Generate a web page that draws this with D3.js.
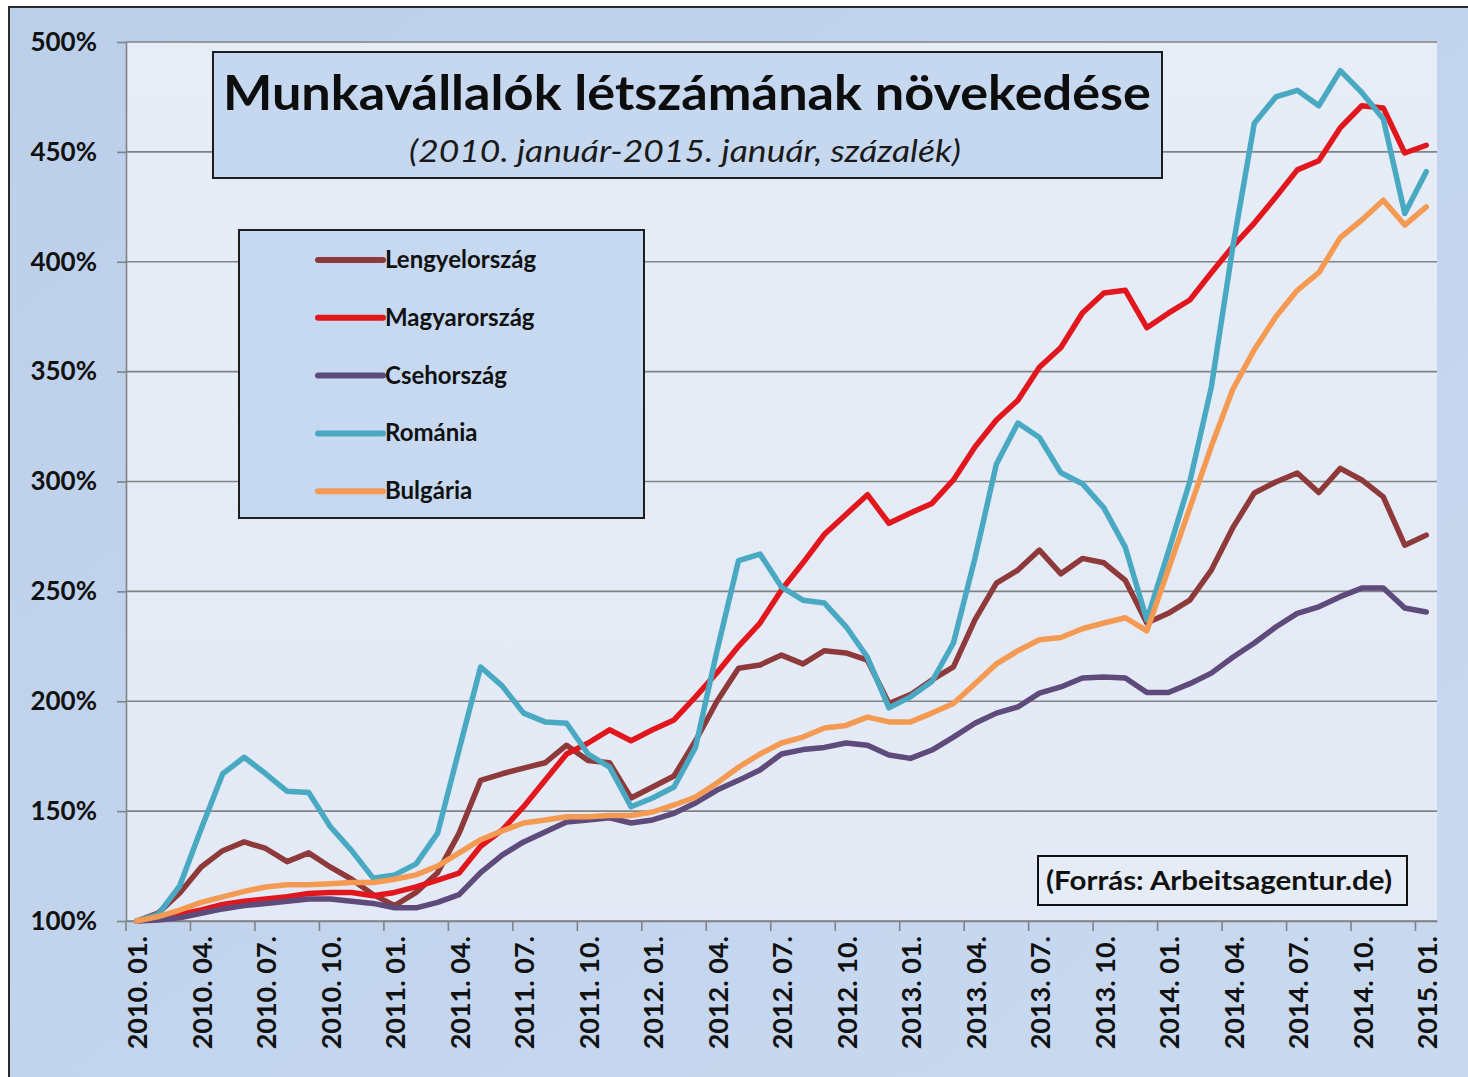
<!DOCTYPE html>
<html>
<head>
<meta charset="utf-8">
<script src="https://cdn.jsdelivr.net/npm/d3@7"></script>
<style>
  body { margin: 0; background: #ffffff; }
  text { font-family: Lato, "Open Sans", sans-serif; }
</style>
</head>
<body>
<div id="chart"></div>
<script>
// categories (monthly, 2010.01 - 2015.01)
const months = [
  "2010. 01.", "2010. 02.", "2010. 03.", "2010. 04.", "2010. 05.", "2010. 06.",
  "2010. 07.", "2010. 08.", "2010. 09.", "2010. 10.", "2010. 11.", "2010. 12.",
  "2011. 01.", "2011. 02.", "2011. 03.", "2011. 04.", "2011. 05.", "2011. 06.",
  "2011. 07.", "2011. 08.", "2011. 09.", "2011. 10.", "2011. 11.", "2011. 12.",
  "2012. 01.", "2012. 02.", "2012. 03.", "2012. 04.", "2012. 05.", "2012. 06.",
  "2012. 07.", "2012. 08.", "2012. 09.", "2012. 10.", "2012. 11.", "2012. 12.",
  "2013. 01.", "2013. 02.", "2013. 03.", "2013. 04.", "2013. 05.", "2013. 06.",
  "2013. 07.", "2013. 08.", "2013. 09.", "2013. 10.", "2013. 11.", "2013. 12.",
  "2014. 01.", "2014. 02.", "2014. 03.", "2014. 04.", "2014. 05.", "2014. 06.",
  "2014. 07.", "2014. 08.", "2014. 09.", "2014. 10.", "2014. 11.", "2014. 12.",
  "2015. 01."
];

const lengyelorszag = [
  100, 103.6, 112.7, 124.6, 132, 136, 133, 127, 131, 124.6, 119, 112,
  107, 113, 122, 140, 164, 167, 169.6, 172, 180, 173, 172, 156,
  161, 166, 182, 200, 215, 216.5, 221, 217, 223, 222, 218.7, 199,
  203, 209.7, 215.6, 237, 253.8, 259.7, 268.8, 258, 265, 263, 255, 235.6,
  240, 246, 259.7, 279, 294.8, 299.8, 303.9, 295, 306, 300.7, 293, 271,
  275.6
];

const magyarorszag = [
  100, 101, 103, 105, 107.5, 109, 110, 111, 112.5, 113, 113, 111.5,
  113, 115.5, 118.6, 121.8, 134, 141.4, 152, 164, 176, 181, 187, 182,
  187, 191.5, 202, 213, 225, 235.6, 250.6, 263, 276, 285, 294, 281,
  285.7, 290, 300.7, 315.7, 328, 337, 352, 361, 376.7, 385.8, 387, 370,
  376.6, 382.6, 395, 407, 417.6, 429.5, 441.8, 446, 461, 471, 470, 449.5,
  453
];

const csehorszag = [
  100, 100.5, 101.5, 103.5, 105.5, 107, 108, 109, 110, 110, 109, 108,
  106, 106, 108.5, 112, 122, 130, 136, 140.5, 145, 146, 147, 144.6,
  146, 149, 153.7, 159.6, 164, 168.7, 176, 178, 179, 181, 180, 175.5,
  174, 177.8, 183.7, 190, 194.6, 197.4, 203.7, 206.5, 210.6, 211, 210.6, 204,
  204, 208, 212.8, 220, 226.5, 233.8, 240, 243, 247.6, 251.5, 251.5, 242.4,
  240.6
];

const romania = [
  100, 103, 116, 142, 167, 174.5, 167, 159, 158.5, 143, 132, 119.5,
  121, 126, 140, 178, 215.6, 207, 194.6, 190.6, 190, 176, 170, 152,
  156, 161, 179, 223, 264, 267, 252, 246, 244.7, 234, 220, 197,
  202, 209, 226.5, 265, 308, 326.6, 320, 304, 299, 288, 270, 237,
  268, 300, 343, 406.7, 463, 475, 478, 471, 487, 477, 465, 422,
  441
];

const bulgaria = [
  100, 102, 105, 108.5, 111, 113.5, 115.5, 116.5, 116.5, 117, 117.5, 117.5,
  119, 121, 125, 131, 137, 141, 144.6, 146, 147.4, 147.4, 148, 148,
  149.6, 152.8, 156.4, 162.8, 170, 176, 181, 183.7, 187.8, 189, 192.8, 190.6,
  190.6, 194.6, 199, 208, 217, 223, 228, 229, 233, 235.6, 238, 232,
  260, 288, 316, 342, 360, 375, 387, 395, 411, 419, 428, 416.7,
  425
];

const seriesNames = ["Lengyelország", "Magyarország", "Csehország", "Románia", "Bulgária"];
const seriesColors = ["#8f3a3a", "#e2161d", "#5f4a7c", "#4aa9c2", "#f49a52"];
const yTicks = [100, 150, 200, 250, 300, 350, 400, 450, 500];

const titleText = "Munkavállalók létszámának növekedése";
const subtitleText = "(2010. január-2015. január, százalék)";
const sourceText = "(Forrás: Arbeitsagentur.de)";

class LineChart {
    constructor(config) {
        this.config = config;
        this.width = config.width;
        this.height = config.height;
        this.left = config.left;
        this.right = config.right;
        this.top = config.top;
        this.bottom = config.bottom;
        this.svg = null;
        this.xScale = null;
        this.yScale = null;
        this.createSvg();
    }

    createSvg() {
        this.svg = d3.select(this.config.div)
            .append('svg')
            .attr('width', this.width)
            .attr('height', this.height);

        const defs = this.svg.append('defs');
        const outer = defs.append('linearGradient')
            .attr('id', 'outerFill')
            .attr('x1', 0).attr('y1', 0).attr('x2', 1).attr('y2', 1);
        outer.append('stop').attr('offset', '0%').attr('stop-color', '#bccfea');
        outer.append('stop').attr('offset', '100%').attr('stop-color', '#c9daf0');

        const inner = defs.append('linearGradient')
            .attr('id', 'plotFill')
            .attr('x1', 0).attr('y1', 0).attr('x2', 0).attr('y2', 1);
        inner.append('stop').attr('offset', '0%').attr('stop-color', '#e7edf7');
        inner.append('stop').attr('offset', '100%').attr('stop-color', '#e3eaf5');

        this.svg.append('rect')
            .attr('x', 9).attr('y', 7)
            .attr('width', this.width + 20).attr('height', this.height + 20)
            .attr('fill', 'url(#outerFill)')
            .attr('stroke', '#2b2b2b')
            .attr('stroke-width', 2);
    }

    createScales() {
        this.xScale = d3.scaleBand()
            .domain(months)
            .range([this.left, this.width - this.right]);
        this.yScale = d3.scaleLinear()
            .domain([100, 500])
            .range([this.height - this.bottom, this.top]);

        this.svg.append('rect')
            .attr('x', this.left)
            .attr('y', this.top)
            .attr('width', this.width - this.right - this.left)
            .attr('height', this.height - this.bottom - this.top)
            .attr('fill', 'url(#plotFill)');
    }

    createGrid() {
        this.svg.append('g')
            .selectAll('line')
            .data(yTicks)
            .join('line')
            .attr('x1', this.left)
            .attr('x2', this.width - this.right)
            .attr('y1', d => this.yScale(d))
            .attr('y2', d => this.yScale(d))
            .attr('stroke', '#808285')
            .attr('stroke-width', 1.6);
    }

    createAxis() {
        const bw = this.xScale.bandwidth();
        const xAxis = d3.axisBottom(this.xScale)
            .tickValues(months.filter((d, i) => i % 3 === 0))
            .tickSizeInner(10)
            .tickSizeOuter(0);

        const gx = this.svg.append('g')
            .attr('transform', `translate(0,${this.height - this.bottom})`)
            .call(xAxis);
        gx.select('.domain').attr('stroke', '#808285').attr('stroke-width', 1.6);
        gx.selectAll('.tick line')
            .attr('x1', -bw / 2).attr('x2', -bw / 2)
            .attr('stroke', '#808285').attr('stroke-width', 1.6);
        gx.selectAll('.tick text')
            .attr('transform', 'rotate(-90)')
            .attr('x', -15)
            .attr('y', 1)
            .attr('dy', '0.36em')
            .attr('text-anchor', 'end')
            .attr('font-size', 27)
            .attr('font-weight', 'bold')
            .attr('fill', '#111');

        const yAxis = d3.axisLeft(this.yScale)
            .tickValues(yTicks)
            .tickFormat(d => d + '%')
            .tickSizeInner(9)
            .tickSizeOuter(0)
            .tickPadding(20);
        const gy = this.svg.append('g')
            .attr('transform', `translate(${this.left},0)`)
            .call(yAxis);
        gy.select('.domain').attr('stroke', '#808285').attr('stroke-width', 1.6);
        gy.selectAll('.tick line').attr('stroke', '#808285').attr('stroke-width', 1.6);
        gy.selectAll('.tick text')
            .attr('font-size', 26)
            .attr('font-weight', 'bold')
            .attr('fill', '#111');
    }

    createLines() {
        const bw = this.xScale.bandwidth();
        const line = d3.line()
            .x((d, i) => this.xScale(months[i]) + bw / 2)
            .y(d => this.yScale(d));
        const all = [lengyelorszag, magyarorszag, csehorszag, romania, bulgaria];

        this.svg.append('g')
            .selectAll('path')
            .data(all)
            .join('path')
            .attr('d', d => line(d))
            .attr('fill', 'none')
            .attr('stroke', (d, i) => seriesColors[i])
            .attr('stroke-width', 5.5)
            .attr('stroke-linejoin', 'round')
            .attr('stroke-linecap', 'round');
    }

    createTitle() {
        const g = this.svg.append('g');
        g.append('rect')
            .attr('x', 213).attr('y', 52)
            .attr('width', 949).attr('height', 126)
            .attr('fill', '#c6d8f0')
            .attr('stroke', '#1e1e1e')
            .attr('stroke-width', 2);
        g.append('text')
            .attr('x', 687).attr('y', 110)
            .attr('text-anchor', 'middle')
            .attr('font-size', 48)
            .attr('font-weight', 'bold')
            .attr('fill', '#0d0d0d')
            .attr('textLength', 928)
            .attr('lengthAdjust', 'spacingAndGlyphs')
            .text(titleText);
        g.append('text')
            .attr('x', 685).attr('y', 162)
            .attr('text-anchor', 'middle')
            .attr('font-size', 30)
            .attr('font-style', 'italic')
            .attr('fill', '#1a1a1a')
            .attr('textLength', 552)
            .attr('lengthAdjust', 'spacingAndGlyphs')
            .text(subtitleText);
    }

    createLegend() {
        const g = this.svg.append('g');
        g.append('rect')
            .attr('x', 239).attr('y', 230)
            .attr('width', 405).attr('height', 288)
            .attr('fill', '#c6d9f1')
            .attr('stroke', '#1e1e1e')
            .attr('stroke-width', 2);
        const rows = g.selectAll('g.entry')
            .data(seriesNames)
            .join('g')
            .attr('class', 'entry')
            .attr('transform', (d, i) => `translate(0,${260 + i * 57.8})`);
        rows.append('line')
            .attr('x1', 318).attr('x2', 383)
            .attr('stroke', (d, i) => seriesColors[i])
            .attr('stroke-width', 6)
            .attr('stroke-linecap', 'round');
        rows.append('text')
            .attr('x', 385).attr('y', 8)
            .attr('font-size', 24)
            .attr('font-weight', 'bold')
            .attr('fill', '#111')
            .text(d => d);
    }

    createSource() {
        const g = this.svg.append('g');
        g.append('rect')
            .attr('x', 1038).attr('y', 856)
            .attr('width', 369).attr('height', 49)
            .attr('fill', '#e6ecf6')
            .attr('stroke', '#111')
            .attr('stroke-width', 2);
        g.append('text')
            .attr('x', 1219).attr('y', 890)
            .attr('text-anchor', 'middle')
            .attr('font-size', 26)
            .attr('font-weight', 'bold')
            .attr('fill', '#111')
            .attr('textLength', 346)
            .attr('lengthAdjust', 'spacingAndGlyphs')
            .text(sourceText);
    }
}

function startLineChart(object) {
    const chart = new LineChart(object);
    chart.createScales();
    chart.createGrid();
    chart.createAxis();
    chart.createLines();
    chart.createTitle();
    chart.createLegend();
    chart.createSource();
}

startLineChart({
    div: '#chart',
    width: 1468,
    height: 1077,
    left: 126,
    right: 31,
    top: 42,
    bottom: 156
});
</script>
</body>
</html>
